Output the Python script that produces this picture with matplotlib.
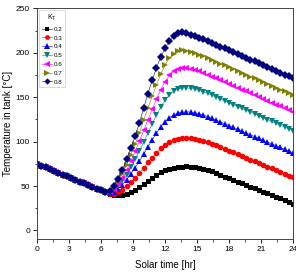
import matplotlib
matplotlib.use("Agg")
import matplotlib.pyplot as plt
from matplotlib.ticker import MultipleLocator

plt.rcParams['font.family'] = ['Liberation Sans', 'DejaVu Sans']

time_hr = [0.0, 0.4, 0.8, 1.2, 1.6, 2.0, 2.4, 2.8, 3.2, 3.6, 4.0, 4.4, 4.8, 5.2, 5.6, 6.0, 6.4,
           6.8, 7.2, 7.6, 8.0, 8.4, 8.8, 9.2, 9.6, 10.0, 10.4, 10.8, 11.2, 11.6, 12.0, 12.4, 12.8,
           13.2, 13.6, 14.0, 14.4, 14.8, 15.2, 15.6, 16.0, 16.4, 16.8, 17.2, 17.6, 18.0, 18.4,
           18.8, 19.2, 19.6, 20.0, 20.4, 20.8, 21.2, 21.6, 22.0, 22.4, 22.8, 23.2, 23.6, 24.0]

# common night-time cooling (identical for all K_T)
night_T = [75, 73, 71, 68.9, 66.9, 64.8, 62.8, 60.8, 58.8, 56.8, 54.8, 52.9, 50.9, 49.0, 47.1, 45.2, 43.5]

day_T_02 = [41, 40, 39.5, 40, 41.5, 43.5, 46, 49, 52.5, 56, 59.5, 62.5, 65.5, 67.8, 69.5, 70.7, 71.4,
            71.8, 72, 71.8, 71.3, 70.5, 69.5, 68.3, 66.4, 64.5, 62.6, 60.7, 58.8, 56.9, 55.0, 53.1,
            51.2, 49.3, 47.4, 45.5, 43.6, 41.7, 39.8, 37.9, 36.0, 34.1, 32.2, 30.3]
day_T_03 = [41.5, 41.5, 43, 46, 49.5, 54, 59, 64.5, 70.5, 76.5, 82, 87.5, 92.5, 96.5, 99.5, 101.5,
            102.8, 103.5, 103.8, 103.7, 103.2, 102.3, 101.2, 99.8, 97.8, 95.8, 93.8, 91.8, 89.8, 87.8,
            85.8, 83.8, 81.8, 79.8, 77.8, 75.8, 73.8, 71.8, 69.8, 67.8, 65.8, 63.8, 61.8, 59.8]
day_T_04 = [42, 43.5, 47, 51.5, 57, 63.5, 70.5, 78, 86, 94, 102, 109.5, 116.5, 122.5, 127, 130, 132,
            133, 133.5, 133.3, 132.5, 131.3, 129.8, 128.2, 126.2, 124.1, 122.1, 120.0, 118.0, 115.9,
            113.9, 111.8, 109.8, 107.7, 105.7, 103.6, 101.6, 99.5, 97.5, 95.4, 93.4, 91.3, 89.3, 87.2]
day_T_05 = [42.5, 45, 49.5, 55.5, 62.5, 71, 80, 89.5, 99.5, 110, 120, 130, 139, 146.5, 152.5, 156.5,
            159, 160.2, 160.5, 160, 159, 157.6, 156, 154.2, 152.1, 150.0, 147.9, 145.8, 143.7, 141.6,
            139.5, 137.4, 135.3, 133.2, 131.1, 129.0, 126.9, 124.8, 122.7, 120.6, 118.5, 116.4, 114.3, 112.2]
day_T_06 = [43, 46.5, 52, 59.5, 68, 78, 89, 100.5, 112.5, 124.5, 136.5, 148, 158.5, 167.5, 174.5, 179,
            181.8, 183, 183, 182, 180.6, 179, 177.2, 175.3, 173.2, 171.1, 169.0, 166.9, 164.8, 162.7,
            160.6, 158.5, 156.4, 154.3, 152.2, 150.1, 148.0, 145.9, 143.8, 141.7, 139.6, 137.5, 135.4, 133.3]
day_T_07 = [43.5, 48, 55, 64, 74, 85, 97, 110, 124, 138, 151, 164, 176, 186, 194, 199, 202, 203, 202.5,
            201, 199.5, 197.8, 196, 194.2, 192.1, 190.0, 187.9, 185.8, 183.7, 181.6, 179.5, 177.4,
            175.3, 173.2, 171.1, 169.0, 166.9, 164.8, 162.7, 160.6, 158.5, 156.4, 154.3, 152.2]
day_T_08 = [44, 50, 58, 68, 80, 93, 106, 121, 138, 154, 169, 183, 195, 205, 213, 219, 222, 223, 222,
            220.5, 219, 217, 215.2, 213.3, 211.2, 209.1, 207.0, 204.9, 202.8, 200.7, 198.6, 196.5,
            194.4, 192.3, 190.2, 188.1, 186.0, 183.9, 181.8, 179.7, 177.6, 175.5, 173.4, 171.3]

kt_labels = ['0.2', '0.3', '0.4', '0.5', '0.6', '0.7', '0.8']
day_series = [day_T_02, day_T_03, day_T_04, day_T_05, day_T_06, day_T_07, day_T_08]
colors = ['#000000', '#FF0000', '#0000FF', '#008080', '#FF00FF', '#808000', '#000080']
markers = ['s', 'o', '^', 'v', '<', '>', 'D']
msizes = [3.6, 4.0, 4.4, 4.4, 4.4, 4.4, 3.8]

fig = plt.figure(figsize=(2.96, 2.73), dpi=100)
ax = fig.add_axes([0.125, 0.1234, 0.865, 0.846])

for lab, day, c, m, ms in zip(kt_labels, day_series, colors, markers, msizes):
    ax.plot(time_hr, night_T + day, color=c, marker=m, markersize=ms, linewidth=0.4,
            markeredgewidth=0, label=lab)

ax.set_xlim(0, 24)
ax.set_ylim(-10, 250)
ax.xaxis.set_major_locator(MultipleLocator(3))
ax.xaxis.set_minor_locator(MultipleLocator(1.5))
ax.yaxis.set_major_locator(MultipleLocator(50))
ax.yaxis.set_minor_locator(MultipleLocator(25))
ax.tick_params(which='major', direction='out', length=3, width=0.6, labelsize=6, pad=2)
ax.tick_params(which='minor', direction='out', length=1.8, width=0.5)
for s in ax.spines.values():
    s.set_linewidth(0.7)
    s.set_color('#444444')

ax.set_xlabel('Solar time [hr]', fontsize=7, labelpad=5)
ax.set_ylabel('Temperature in tank [°C]', fontsize=7, labelpad=2)

leg = ax.legend(title='K$_\\mathregular{T}$', loc='upper left', bbox_to_anchor=(0.008, 0.992),
                borderaxespad=0, fontsize=4.5, title_fontsize=5, handlelength=1.6,
                handletextpad=0.3, labelspacing=0.55, borderpad=0.4, frameon=True,
                fancybox=False, edgecolor='#cccccc', framealpha=1, markerscale=0.85)
leg.get_frame().set_linewidth(0.5)

fig.savefig('out.png', dpi=100)
